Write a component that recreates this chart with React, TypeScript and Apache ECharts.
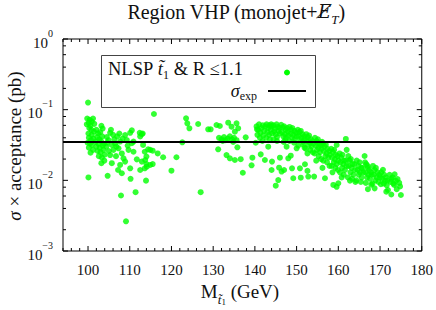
import React, { useEffect, useRef } from 'react';
import * as echarts from 'echarts';

const X_MIN = 94;
const X_MAX = 180;
const Y_MIN = 0.001;
const Y_MAX = 1;
const xLabels = [100, 110, 120, 130, 140, 150, 160, 170, 180];
const yLabels = [0.001, 0.01, 0.1, 1];
const sigmaExp = 0.035;

// M_stop (GeV), sigma x acceptance (pb)
const pointsA: [number, number][] = [
  [100.0, 0.126],
  [99.8, 0.075], [100.4, 0.072], [100.9, 0.068], [101.2, 0.075], [100.2, 0.065], [99.7, 0.062], [100.6, 0.059], [101.5, 0.063],
  [100.3, 0.055], [100.8, 0.052], [100.1, 0.046], [100.9, 0.044], [101.4, 0.049],
  [100.2, 0.040], [100.7, 0.037], [101.3, 0.039], [99.9, 0.034], [100.5, 0.0335], [100.9, 0.0316], [100.2, 0.029], [100.6, 0.0246], [101.2, 0.027],
  [100.1, 0.011],
  [102.0, 0.052], [102.4, 0.046], [103.2, 0.059], [103.5, 0.054], [102.9, 0.048], [102.2, 0.041], [102.7, 0.038], [103.4, 0.042],
  [101.8, 0.035], [102.5, 0.033], [103.1, 0.036], [103.8, 0.033], [102.0, 0.030], [102.8, 0.029], [103.5, 0.031], [102.3, 0.026],
  [103.0, 0.025], [103.7, 0.027], [102.6, 0.022], [103.3, 0.021], [104.0, 0.023], [103.9, 0.019], [103.2, 0.0175],
  [104.7, 0.0116],
  [105.3, 0.047], [104.9, 0.037], [105.7, 0.0317], [106.1, 0.027], [105.3, 0.0228], [105.7, 0.0175], [104.5, 0.041], [104.4, 0.030],
  [105.0, 0.026], [106.3, 0.038], [106.5, 0.033], [104.6, 0.034], [106.0, 0.044], [105.5, 0.052], [106.7, 0.022],
  [107.0, 0.0418], [107.7, 0.0354], [107.3, 0.0284], [108.1, 0.024], [108.5, 0.0205], [107.7, 0.0165], [108.1, 0.0126], [107.2, 0.014],
  [107.9, 0.0061], [107.5, 0.046], [108.3, 0.039], [106.8, 0.030],
  [108.9, 0.0437], [110.1, 0.047], [109.3, 0.0372], [110.5, 0.0335], [109.7, 0.027], [110.9, 0.0254], [108.9, 0.0184], [110.1, 0.0148],
  [109.1, 0.00263], [110.2, 0.0105], [111.4, 0.0068], [110.5, 0.051], [109.5, 0.031],
  [112.9, 0.045], [112.5, 0.0418], [110.9, 0.0354], [111.7, 0.0198], [112.9, 0.0184], [113.7, 0.0194], [114.1, 0.0156], [114.9, 0.0165],
  [114.9, 0.027], [112.5, 0.0140], [113.9, 0.0099],
  [112.4, 0.047], [113.1, 0.046], [113.2, 0.0317], [113.6, 0.0254], [114.4, 0.0275], [114.0, 0.0217], [113.6, 0.0148], [114.0, 0.017],
  [115.8, 0.0869], [116.7, 0.024], [115.5, 0.0263], [115.5, 0.017], [118.0, 0.0212],
];

const pointsB: [number, number][] = [
  [123.5, 0.0755], [123.8, 0.064], [124.3, 0.0545], [126.4, 0.0627], [122.6, 0.0345], [121.2, 0.0212], [120.0, 0.0137], [127.0, 0.0068],
  [128.8, 0.0527], [129.4, 0.0527], [130.8, 0.0607], [131.6, 0.0587], [133.6, 0.0654], [134.4, 0.0574], [135.6, 0.064], [136.0, 0.0545], [135.2, 0.0488],
  [131.4, 0.040], [132.0, 0.038], [132.6, 0.041], [133.0, 0.037], [133.5, 0.039], [134.0, 0.042], [134.5, 0.038], [135.0, 0.040],
  [135.6, 0.037], [132.3, 0.036], [134.8, 0.035],
  [131.2, 0.0275], [133.2, 0.0228], [134.0, 0.0205], [135.2, 0.0194], [136.6, 0.0199], [137.1, 0.0128], [137.8, 0.0406], [135.8, 0.0293],
  [139.4, 0.0209], [139.2, 0.0163], [140.5, 0.0527],
];

const pointsC: [number, number][] = [
  [140.4, 0.058], [140.8, 0.052], [141.0, 0.062], [141.3, 0.047], [141.6, 0.055], [141.9, 0.060], [140.6, 0.044], [141.2, 0.040],
  [141.8, 0.036], [142.2, 0.050], [142.5, 0.058], [142.0, 0.043], [141.4, 0.0233], [142.4, 0.0194], [140.2, 0.034],
  [142.8, 0.062], [143.2, 0.055], [143.5, 0.060], [143.0, 0.048], [143.8, 0.052], [143.4, 0.044], [144.0, 0.058], [142.7, 0.040],
  [143.6, 0.038], [144.1, 0.046], [143.2, 0.0299], [144.1, 0.0184], [144.0, 0.014], [143.9, 0.062],
  [144.4, 0.060], [144.8, 0.054], [145.2, 0.062], [145.5, 0.057], [144.6, 0.049], [145.0, 0.045], [145.7, 0.050], [145.3, 0.041],
  [144.5, 0.038], [145.9, 0.055], [146.0, 0.046], [145.8, 0.0151], [146.4, 0.0133], [145.6, 0.0101], [145.0, 0.0084], [146.0, 0.0209], [145.3, 0.036],
  [146.3, 0.061], [146.7, 0.056], [147.0, 0.058], [147.4, 0.052], [146.5, 0.048], [147.2, 0.045], [147.7, 0.055], [147.9, 0.049],
  [146.8, 0.042], [147.5, 0.040], [148.0, 0.043], [147.6, 0.0299], [147.0, 0.014], [146.9, 0.035], [147.3, 0.037],
  [148.3, 0.057], [148.7, 0.052], [149.0, 0.055], [149.5, 0.050], [148.5, 0.046], [149.2, 0.044], [149.8, 0.047], [148.9, 0.040],
  [149.6, 0.038], [150.0, 0.042], [148.0, 0.0205], [148.6, 0.0223], [148.9, 0.0148], [149.2, 0.0107], [150.0, 0.0284], [149.4, 0.034], [148.3, 0.036],
  [150.3, 0.052], [150.7, 0.048], [151.0, 0.050], [151.4, 0.045], [150.5, 0.043], [151.2, 0.040], [151.8, 0.042], [150.9, 0.037],
  [151.5, 0.035], [152.0, 0.038], [150.8, 0.0148], [151.0, 0.0109], [151.6, 0.032], [150.4, 0.031], [151.9, 0.029],
  [152.3, 0.045], [152.7, 0.041], [153.0, 0.043], [153.4, 0.038], [152.5, 0.036], [153.2, 0.034], [153.8, 0.036], [152.9, 0.032],
  [153.6, 0.030], [154.0, 0.033], [152.0, 0.0169], [152.6, 0.0136], [152.8, 0.0113], [154.2, 0.0113], [153.3, 0.027], [152.2, 0.028],
  [153.9, 0.025], [152.6, 0.024],
  [154.4, 0.040], [154.8, 0.036], [155.1, 0.038], [155.5, 0.033], [154.6, 0.031], [155.2, 0.029], [155.8, 0.031], [154.9, 0.027],
  [155.6, 0.025], [156.0, 0.028], [154.3, 0.024], [155.3, 0.022], [155.9, 0.020], [154.7, 0.019], [155.0, 0.034], [156.1, 0.035],
  [156.3, 0.033], [156.7, 0.030], [157.0, 0.032], [157.4, 0.028], [156.5, 0.026], [157.2, 0.024], [157.8, 0.026], [156.9, 0.022],
  [157.6, 0.021], [158.0, 0.023], [156.4, 0.019], [157.3, 0.018], [157.9, 0.016], [156.8, 0.0107], [158.8, 0.0086], [156.2, 0.015],
  [158.3, 0.028], [158.7, 0.025], [159.0, 0.027], [159.4, 0.023], [158.5, 0.021], [159.2, 0.020], [159.8, 0.022], [158.9, 0.018],
  [159.6, 0.017], [160.0, 0.019], [158.4, 0.016], [159.3, 0.015], [159.9, 0.014], [159.6, 0.0081], [159.6, 0.0316], [158.6, 0.013],
  [160.3, 0.024], [160.7, 0.021], [161.0, 0.023], [161.4, 0.019], [160.5, 0.018], [161.2, 0.017], [161.8, 0.019], [160.9, 0.015],
  [161.6, 0.014], [162.0, 0.016], [160.4, 0.013], [161.3, 0.012], [161.8, 0.0385], [160.8, 0.011], [162.0, 0.027], [160.0, 0.0091],
  [162.4, 0.022], [162.7, 0.019], [163.0, 0.020], [163.4, 0.017], [162.5, 0.016], [163.2, 0.015], [163.8, 0.017], [162.9, 0.013],
  [163.6, 0.012], [164.0, 0.014], [162.3, 0.011], [163.3, 0.0105], [164.1, 0.0095], [162.8, 0.0099],
  [164.4, 0.019], [164.8, 0.016], [165.1, 0.018], [165.5, 0.015], [164.6, 0.014], [165.2, 0.013], [165.8, 0.015], [164.9, 0.012],
  [165.6, 0.011], [166.0, 0.013], [164.3, 0.010], [165.4, 0.0095], [166.3, 0.0221],
  [166.4, 0.018], [166.7, 0.017], [167.0, 0.016], [167.4, 0.014], [166.5, 0.013], [167.2, 0.012], [167.8, 0.013], [166.9, 0.011],
  [167.6, 0.0105], [168.0, 0.012], [166.6, 0.0092], [167.9, 0.0087], [167.1, 0.015], [167.1, 0.0075],
  [168.3, 0.016], [168.7, 0.014], [169.0, 0.015], [169.4, 0.013], [168.5, 0.012], [169.2, 0.011], [169.8, 0.012], [168.9, 0.010],
  [169.6, 0.0095], [170.0, 0.011], [168.7, 0.0077], [168.2, 0.009],
  [170.3, 0.013], [170.7, 0.0141], [171.0, 0.012], [171.4, 0.011], [170.5, 0.0105], [171.2, 0.0098], [171.8, 0.010], [170.9, 0.009],
  [171.6, 0.0085], [171.9, 0.0073], [171.5, 0.0069], [170.2, 0.0088],
  [172.3, 0.012], [172.7, 0.0105], [173.0, 0.011], [173.5, 0.0122], [172.5, 0.0095], [173.2, 0.009], [173.8, 0.0098], [174.2, 0.0104],
  [173.4, 0.0086], [172.7, 0.0063], [174.6, 0.0092], [175.0, 0.0062], [174.0, 0.0075], [174.8, 0.0082],
];

const FONT = "'Liberation Serif', 'DejaVu Serif', serif";
const GREEN = '#00ff00';

export default function App() {
  const ref = useRef<HTMLDivElement>(null);

  useEffect(() => {
    const el = ref.current;
    if (!el) return;
    const chart = echarts.init(el, null, { renderer: 'svg' });

    const option: any = {
      animation: false,
      backgroundColor: '#ffffff',
      grid: {
        left: 63, right: 14, top: 39, bottom: 59,
        show: true, borderColor: '#000', borderWidth: 1, backgroundColor: 'transparent',
      },
      xAxis: {
        type: 'value', min: X_MIN, max: X_MAX,
        axisLine: { show: false }, axisTick: { show: false }, splitLine: { show: false },
        axisLabel: {
          customValues: xLabels, color: '#111', fontFamily: FONT, fontSize: 15, margin: 11,
        },
      },
      yAxis: {
        type: 'log', logBase: 10, min: Y_MIN, max: Y_MAX,
        axisLine: { show: false }, axisTick: { show: false }, splitLine: { show: false }, minorTick: { show: false },
        axisLabel: {
          customValues: yLabels,
          margin: 10,
          formatter: (v: number) => {
            const e = Math.round(Math.log10(v));
            return '{b|10}{p|' + (e === 0 ? '0' : '\u2212' + (-e)) + '}';
          },
          rich: {
            b: { fontFamily: FONT, fontSize: 15, color: '#111', lineHeight: 22, verticalAlign: 'bottom' },
            p: { fontFamily: FONT, fontSize: 10, color: '#111', lineHeight: 11, verticalAlign: 'top' },
          },
        },
      },
      series: [
        {
          type: 'scatter',
          name: 'NLSP',
          symbol: 'circle',
          symbolSize: 6,
          itemStyle: { color: GREEN },
          data: [...pointsA, ...pointsB, ...pointsC],
        },
        {
          type: 'line',
          name: 'sigma_exp',
          silent: true,
          showSymbol: false,
          z: 5,
          lineStyle: { color: '#000', width: 2 },
          data: [[X_MIN, sigmaExp], [X_MAX, sigmaExp]],
        },
      ],
    };
    chart.setOption(option);

    const P = (x: number, y: number) => chart.convertToPixel({ gridIndex: 0 }, [x, y]) as number[];
    const [gl, gb] = P(X_MIN, Y_MIN);
    const [gr, gt] = P(X_MAX, Y_MAX);
    const els: any[] = [];
    const ln = (x1: number, y1: number, x2: number, y2: number) => ({
      type: 'line', silent: true, z: 10,
      shape: { x1, y1, x2, y2 },
      style: { stroke: '#000', lineWidth: 1 },
    });
    for (let v = X_MIN; v <= X_MAX; v += 2) {
      const px = P(v, Y_MIN)[0];
      const len = v % 10 === 0 ? 5 : 3;
      els.push(ln(px, gb, px, gb - len));
      els.push(ln(px, gt, px, gt + len));
    }
    for (let e = -3; e <= 0; e++) {
      for (const m of [1, 2, 4, 6, 8]) {
        const val = m * Math.pow(10, e);
        if (val > Y_MAX * 1.0001) continue;
        const py = P(X_MIN, val)[1];
        const len = m === 1 ? 5 : 3;
        els.push(ln(gl, py, gl + len, py));
        els.push(ln(gr, py, gr - len, py));
      }
    }

    // title
    els.push({
      type: 'text', x: 236, y: 14, silent: true,
      style: {
        text: '{a|Region VHP (monojet+}{e|E\u0338}{s|T}{a|)}',
        align: 'center', verticalAlign: 'middle',
        rich: {
          a: { fontFamily: FONT, fontSize: 20, fill: '#111', lineHeight: 24, verticalAlign: 'top' },
          e: { fontFamily: "'DejaVu Serif', serif", fontSize: 18, fill: '#111', fontStyle: 'italic', lineHeight: 24, verticalAlign: 'top' },
          s: { fontFamily: FONT, fontSize: 13, fill: '#111', fontStyle: 'italic', lineHeight: 14, verticalAlign: 'bottom' },
        },
      },
    });
    // y axis title
    els.push({
      type: 'text', x: 14, y: 146, rotation: Math.PI / 2, silent: true,
      style: {
        text: '{i|\u03c3}{a| \u00d7 acceptance (pb)}',
        align: 'center', verticalAlign: 'middle',
        rich: {
          i: { fontFamily: FONT, fontSize: 19, fill: '#111', fontStyle: 'italic' },
          a: { fontFamily: FONT, fontSize: 19, fill: '#111' },
        },
      },
    });
    // x axis title
    els.push({
      type: 'text', x: 240, y: 294, silent: true,
      style: {
        text: '{a|M}{s|t\u0303}{ss|1}{a| (GeV)}',
        align: 'center', verticalAlign: 'middle',
        rich: {
          a: { fontFamily: FONT, fontSize: 19, fill: '#111', lineHeight: 24, verticalAlign: 'top' },
          s: { fontFamily: FONT, fontSize: 13, fill: '#111', fontStyle: 'italic', lineHeight: 14, verticalAlign: 'bottom' },
          ss: { fontFamily: FONT, fontSize: 9, fill: '#111', lineHeight: 9, verticalAlign: 'bottom' },
        },
      },
    });
    // legend box
    els.push({
      type: 'rect', silent: true, z: 20,
      shape: { x: 101.5, y: 55.5, width: 214, height: 52 },
      style: { fill: '#fff', stroke: '#444', lineWidth: 1 },
    });
    els.push({
      type: 'text', x: 108, y: 70, silent: true, z: 21,
      style: {
        text: '{a|NLSP }{i|t\u0303}{s|1}{a| & R \u22641.1}',
        align: 'left', verticalAlign: 'middle',
        rich: {
          a: { fontFamily: FONT, fontSize: 18.5, fill: '#111', lineHeight: 22, verticalAlign: 'top' },
          i: { fontFamily: FONT, fontSize: 18.5, fill: '#111', fontStyle: 'italic', lineHeight: 22, verticalAlign: 'top' },
          s: { fontFamily: FONT, fontSize: 12, fill: '#111', lineHeight: 12, verticalAlign: 'bottom' },
        },
      },
    });
    els.push({
      type: 'circle', silent: true, z: 21,
      shape: { cx: 287, cy: 72.5, r: 3 },
      style: { fill: GREEN },
    });
    els.push({
      type: 'text', x: 257, y: 92, silent: true, z: 21,
      style: {
        text: '{i|\u03c3}{s|exp}',
        align: 'right', verticalAlign: 'middle',
        rich: {
          i: { fontFamily: FONT, fontSize: 18, fill: '#111', fontStyle: 'italic', lineHeight: 20, verticalAlign: 'top' },
          s: { fontFamily: FONT, fontSize: 12, fill: '#111', lineHeight: 12, verticalAlign: 'bottom' },
        },
      },
    });
    els.push({
      type: 'line', silent: true, z: 21,
      shape: { x1: 268, y1: 91, x2: 306, y2: 91 },
      style: { stroke: '#000', lineWidth: 2 },
    });

    chart.setOption({ graphic: { elements: els } });

    return () => {
      chart.dispose();
    };
  }, []);

  return <div ref={ref} style={{ position: 'fixed', left: 0, top: 0, width: 436, height: 310 }} />;
}
